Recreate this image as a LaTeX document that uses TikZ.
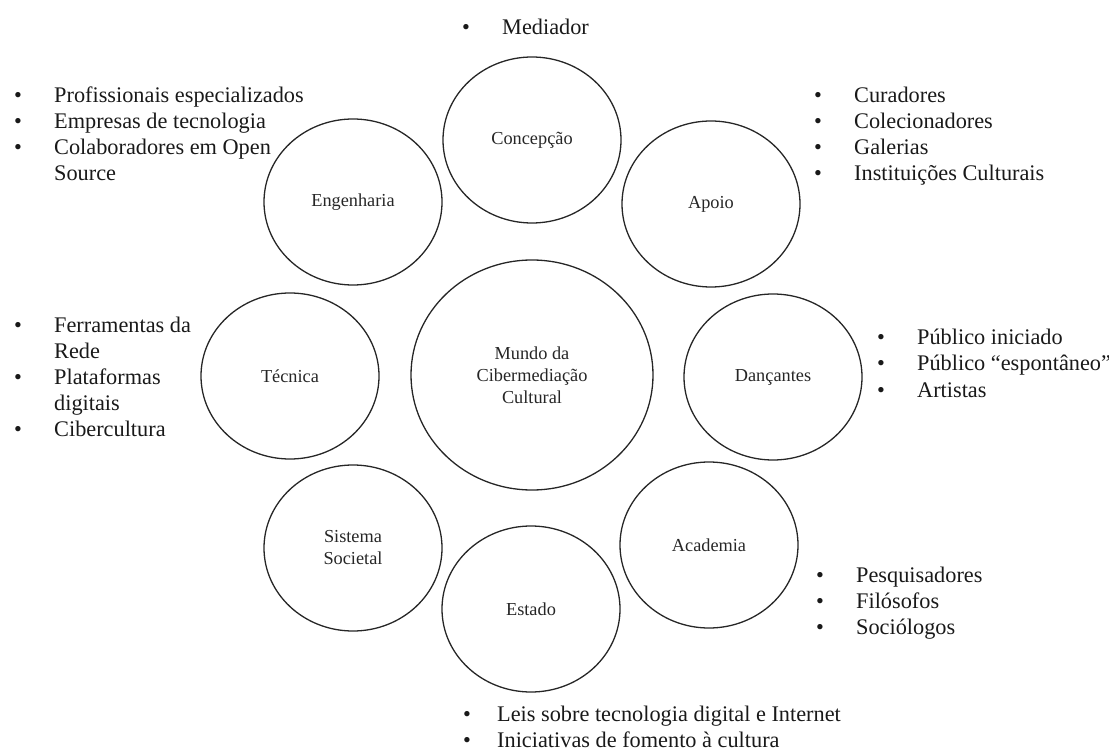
\documentclass[tikz,border=0pt]{standalone}
\usepackage{fontspec}
\setmainfont{Liberation Serif}
\usetikzlibrary{shapes.geometric}
\newcommand{\bitem}[1]{\makebox[40pt][l]{\textbullet}#1}
\newcommand{\bcont}[1]{\makebox[40pt][l]{}#1}
\begin{document}
\begin{tikzpicture}[x=1pt,y=-1pt,
  ring/.style={ellipse,draw=black!85,line width=1.3pt,minimum width=178pt,
    minimum height=166pt,inner sep=0pt,align=center,text=black!85,
    font=\fontsize{18.3}{22}\selectfont},
  hub/.style={ring,minimum width=242pt,minimum height=230pt},
  itemlist/.style={anchor=base west,align=left,inner sep=0pt,text=black!90,
    font=\fontsize{22.3}{26}\selectfont}]
\useasboundingbox (0,0) rectangle (1109,751);

% central circle and the eight circles around it
\node[hub] (mundo) at (532,375) {Mundo da\\Cibermediação\\Cultural};
\node[ring] (concepcao) at (532,140) {Concepção};
\node[ring] (engenharia) at (353,202) {Engenharia};
\node[ring] (apoio) at (711,204) {Apoio};
\node[ring] (tecnica) at (290,376) {Técnica};
\node[ring] (dancantes) at (773,377) {Dançantes};
\node[ring] (sistema) at (353,548) {Sistema\\Societal};
\node[ring] (academia) at (709,545) {Academia};
\node[ring] (estado) at (531,609) {Estado};

% bullet lists beside the circles (each placed by the baseline of its last line)
\node[itemlist] (lmed) at (462,35) {\bitem{Mediador}};
\node[itemlist] (leng) at (14,181) {\bitem{Profissionais especializados}\\
  \bitem{Empresas de tecnologia}\\ \bitem{Colaboradores em Open}\\ \bcont{Source}};
\node[itemlist] (lapo) at (814,181) {\bitem{Curadores}\\ \bitem{Colecionadores}\\
  \bitem{Galerias}\\ \bitem{Instituições Culturais}};
\node[itemlist] (ltec) at (14,436) {\bitem{Ferramentas da}\\ \bcont{Rede}\\
  \bitem{Plataformas}\\ \bcont{digitais}\\ \bitem{Cibercultura}};
\node[itemlist] (ldan) at (877,397) {\bitem{Público iniciado}\\
  \bitem{Público “espontâneo”}\\ \bitem{Artistas}};
\node[itemlist] (laca) at (816,634) {\bitem{Pesquisadores}\\ \bitem{Filósofos}\\
  \bitem{Sociólogos}};
\node[itemlist] (lest) at (463,747) {\makebox[34pt][l]{\textbullet}Leis sobre tecnologia digital e Internet\\
  \makebox[34pt][l]{\textbullet}Iniciativas de fomento à cultura};
\end{tikzpicture}
\end{document}
